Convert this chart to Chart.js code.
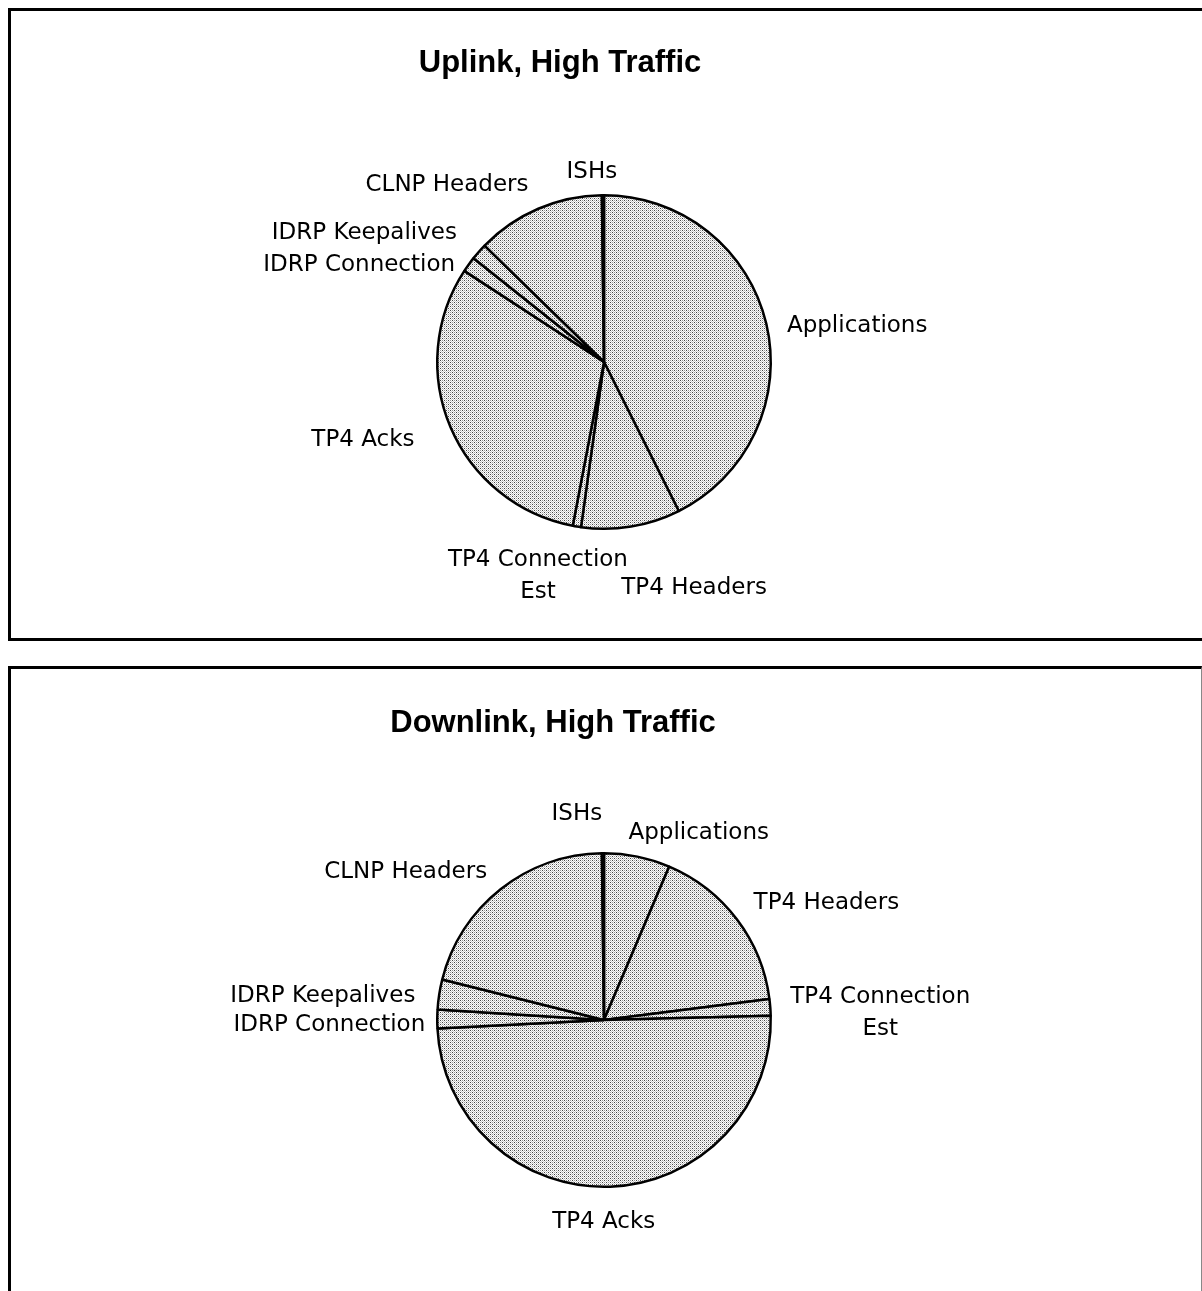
<!DOCTYPE html>
<html>
<head>
<meta charset="utf-8">
<script src="https://cdn.jsdelivr.net/npm/chart.js@4.4.1/dist/chart.umd.min.js"></script>
<style>
  html, body { margin: 0; padding: 0; background: #fff; overflow: hidden; }
  body { width: 1202px; height: 1291px; position: relative; }
  .panel { position: absolute; box-sizing: border-box; }
  #panelUp { left: 8px; top: 8px; width: 1230px; height: 633px; border: 3px solid #000; }
  #panelDown { left: 8px; top: 666px; width: 1194px; height: 700px;
    border-left: 3px solid #000; border-top: 3px solid #000; border-right: 1px solid #888; }
  canvas { position: absolute; left: 0; }
  #upChart { top: 0; }
  #downChart { top: 652px; }
</style>
</head>
<body>
<div class="panel" id="panelUp"></div>
<div class="panel" id="panelDown"></div>
<canvas id="upChart" width="1202" height="652"></canvas>
<canvas id="downChart" width="1202" height="639"></canvas>
<script>
// Slice categories (same order for both charts, clockwise from 12 o'clock)
const categories = [
  "Applications",
  "TP4 Headers",
  ["TP4 Connection", "Est"],
  "TP4 Acks",
  "IDRP Connection",
  "IDRP Keepalives",
  "CLNP Headers",
  "ISHs"
];

// Share of traffic, percent
const uplinkValues   = [42.6, 9.6, 0.8, 31.2, 1.5, 1.6, 12.5, 0.2];
const downlinkValues = [6.4, 16.6, 1.6, 49.6, 1.8, 2.9, 20.9, 0.2];

const uplinkTitle = "Uplink, High Traffic";
const downlinkTitle = "Downlink, High Traffic";

// label nudges (px) from the default outside position
const uplinkNudge = [[9, 5], [61, 50], [-37, 38], [-25, 8], [-4, 8], [-13, -11], [-5, -13], [-11, -11]];
const downlinkNudge = [[59, -12], [7, -9], [8, 6], [-7, 23], [0, 6], [-12, 3], [-6, -8], [-26, -27]];

const labelFont = "23px 'DejaVu Sans'";
const lineH = 32;

// dithered grey fill like the original print
function makePattern() {
  const c = document.createElement("canvas");
  c.width = 4; c.height = 4;
  const g = c.getContext("2d");
  g.fillStyle = "#fff"; g.fillRect(0, 0, 4, 4);
  g.fillStyle = "#444"; g.fillRect(0, 0, 1, 1); g.fillRect(2, 2, 1, 1);
  g.fillStyle = "#999"; g.fillRect(2, 0, 1, 1); g.fillRect(0, 2, 1, 1);
  g.fillStyle = "#ccc";
  g.fillRect(1, 1, 1, 1); g.fillRect(3, 3, 1, 1); g.fillRect(1, 3, 1, 1); g.fillRect(3, 1, 1, 1);
  return g.createPattern(c, "repeat");
}

const sliceLabels = {
  id: "sliceLabels",
  afterDatasetsDraw(chart, args, opts) {
    const ctx = chart.ctx;
    const arcs = chart.getDatasetMeta(0).data;
    ctx.save();
    ctx.font = labelFont;
    ctx.fillStyle = "#000";
    ctx.textBaseline = "middle";
    ctx.textAlign = "center";
    arcs.forEach((arc, i) => {
      const mid = (arc.startAngle + arc.endAngle) / 2;
      const r = arc.outerRadius + 12;
      const h = Math.cos(mid);
      const ax = arc.x + r * h;
      const ay = arc.y + r * Math.sin(mid);
      const lbl = chart.data.labels[i];
      const lines = Array.isArray(lbl) ? lbl : [lbl];
      const w = Math.max(...lines.map(l => ctx.measureText(l).width));
      let left = ax - w / 2;
      if (h > 0.2) left = ax;
      else if (h < -0.2) left = ax - w;
      const n = opts.nudge[i];
      const cxText = left + w / 2 + n[0];
      const top = ay + n[1] - (lines.length - 1) * lineH / 2;
      lines.forEach((l, k) => ctx.fillText(l, cxText, top + k * lineH));
    });
    ctx.restore();
  }
};

const panelTitle = {
  id: "panelTitle",
  afterDraw(chart, args, opts) {
    const ctx = chart.ctx;
    ctx.save();
    ctx.font = "bold 31px 'Liberation Sans'";
    ctx.fillStyle = "#000";
    ctx.textAlign = "center";
    ctx.textBaseline = "alphabetic";
    ctx.fillText(opts.text, opts.x, opts.y);
    ctx.restore();
  }
};

function makePie(id, values, title, nudge, pad, titlePos) {
  return new Chart(document.getElementById(id).getContext("2d"), {
    type: "pie",
    data: {
      labels: categories,
      datasets: [{
        data: values,
        backgroundColor: makePattern(),
        borderColor: "#000",
        borderWidth: 2.5
      }]
    },
    options: {
      responsive: false,
      animation: false,
      devicePixelRatio: 1,
      layout: { padding: pad },
      plugins: {
        legend: { display: false },
        tooltip: { enabled: false },
        title: { display: false },
        sliceLabels: { nudge: nudge },
        panelTitle: { text: title, x: titlePos[0], y: titlePos[1] }
      }
    },
    plugins: [sliceLabels, panelTitle]
  });
}

makePie("upChart", uplinkValues, uplinkTitle, uplinkNudge,
  { left: 436, right: 430, top: 194, bottom: 122 }, [560, 72]);
makePie("downChart", downlinkValues, downlinkTitle, downlinkNudge,
  { left: 436, right: 430, top: 200, bottom: 103 }, [553, 80]);
</script>
</body>
</html>
